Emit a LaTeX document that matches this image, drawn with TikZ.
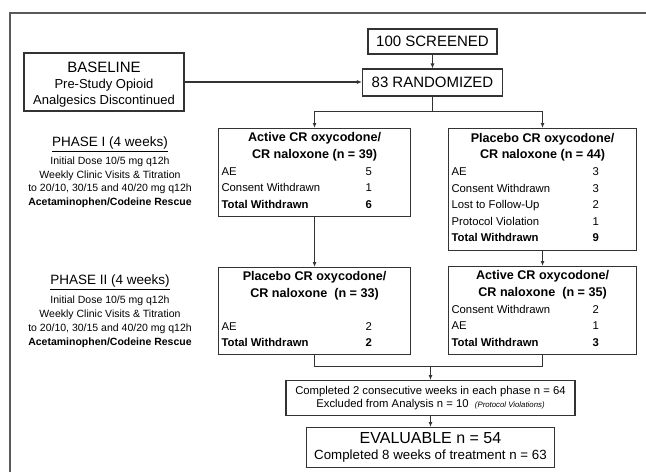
\documentclass[tikz,border=0pt]{standalone}
\usepackage{fontspec}
\setmainfont{Liberation Sans}
\usepackage{tikz}
\usetikzlibrary{positioning}
\usetikzlibrary{arrows.meta}

\definecolor{linegray}{HTML}{333333}
\definecolor{framegray}{HTML}{5A5A5A}
\newcommand{\rowgap}{3.6pt}
\newcommand{\armtitle}[1]{\multicolumn{2}{@{}c@{}}{\fontsize{12.6}{13}\selectfont\bfseries #1}}

\begin{document}
\begin{tikzpicture}[x=1pt, y=-1pt]

 \tikzset{box/.style={
 		draw=linegray, line width=1.1pt,
 		inner sep=3pt,
 		align=center
 	},
 	armbox/.style={
 		draw=linegray, line width=1.1pt,
 		inner sep=3pt,
 		anchor=north west,
 		minimum height=#1,
 		font=\fontsize{11.3}{13}\selectfont
 	},
 	armbox/.default=88pt,
 	phasehead/.style={font=\fontsize{13.5}{15}\selectfont, inner sep=0pt, anchor=base},
 	phasebody/.style={font=\fontsize{10.5}{13.8}\selectfont, align=center, inner sep=0pt, anchor=north},
 	arr/.style={draw=linegray, line width=1.1pt, -{Latex[length=5pt,width=4pt]}},
 	link/.style={draw=linegray, line width=1.1pt}
 }
 \useasboundingbox (0,0) rectangle (646,472);
 \draw[framegray, line width=1.5pt] (10,472) -- (10,13) -- (646,13);

 % top of the flow
 \node[box, minimum width=160pt, minimum height=58pt, font=\fontsize{13}{16}\selectfont] (baseline) at (104,82)
 	{{\fontsize{15}{16}\selectfont\rule{0pt}{15pt}BASELINE}\\ Pre-Study Opioid\\ Analgesics Discontinued};
 \node[box, minimum width=129pt, minimum height=25pt, font=\fontsize{15}{16}\selectfont] (screened) at (432.5,41.5) {100 SCREENED};
 \node[box, minimum width=140pt, minimum height=27pt, font=\fontsize{15}{16}\selectfont] (randomized) at (432.5,82.5) {83 RANDOMIZED};

 % phase texts
 \node[phasehead] (phaseonehead) at (110,146.8) {\underline{PHASE I (4 weeks)}};
 \node[phasebody] (phaseonebody) at (110,156.5) {Initial Dose 10/5 mg q12h\\ Weekly Clinic Visits \& Titration\\
 	to 20/10, 30/15 and 40/20 mg q12h\\ \textbf{Acetaminophen/Codeine Rescue}};
 \node[phasehead] (phasetwohead) at (110,284.8) {\underline{PHASE II (4 weeks)}};
 \node[phasebody] (phasetwobody) at (110,296) {Initial Dose 10/5 mg q12h\\ Weekly Clinic Visits \& Titration\\
 	to 20/10, 30/15 and 40/20 mg q12h\\ \textbf{Acetaminophen/Codeine Rescue}};

 % phase I arms
 \node[armbox] (actone) at (218,128) {\begin{tabular}{@{}p{144pt}@{}p{42pt}@{}}
 	\armtitle{Active CR oxycodone/}\\[\rowgap]
 	\armtitle{CR naloxone (n = 39)}\\[\rowgap]
 	AE & 5\\[\rowgap]
 	Consent Withdrawn & 1\\[\rowgap]
 	\textbf{Total Withdrawn} & \textbf{6}
 \end{tabular}};
 \node[armbox=122pt] (plaone) at (448,128) {\begin{tabular}{@{}p{141pt}@{}p{41pt}@{}}
 	\armtitle{Placebo CR oxycodone/}\\[\rowgap]
 	\armtitle{CR naloxone (n = 44)}\\[\rowgap]
 	AE & 3\\[\rowgap]
 	Consent Withdrawn & 3\\[\rowgap]
 	Lost to Follow-Up & 2\\[\rowgap]
 	Protocol Violation & 1\\[\rowgap]
 	\textbf{Total Withdrawn} & \textbf{9}
 \end{tabular}};

 % phase II arms
 \node[armbox=87pt] (platwo) at (218,267) {\begin{tabular}{@{}p{144pt}@{}p{42pt}@{}}
 	\armtitle{Placebo CR oxycodone/}\\[\rowgap]
 	\armtitle{CR naloxone\ \ (n = 33)}\\[\rowgap]
 	 & \\[\rowgap]
 	AE & 2\\[\rowgap]
 	\textbf{Total Withdrawn} & \textbf{2}
 \end{tabular}};
 \node[armbox] (acttwo) at (448,266) {\begin{tabular}{@{}p{141pt}@{}p{41pt}@{}}
 	\armtitle{Active CR oxycodone/}\\[\rowgap]
 	\armtitle{CR naloxone\ \ (n = 35)}\\[\rowgap]
 	Consent Withdrawn & 2\\[\rowgap]
 	AE & 1\\[\rowgap]
 	\textbf{Total Withdrawn} & \textbf{3}
 \end{tabular}};

 % bottom of the flow
 \node[box, minimum width=289pt, minimum height=35pt, font=\fontsize{11.3}{13}\selectfont, anchor=north] (completed) at (430.5,380)
 	{Completed 2 consecutive weeks in each phase n = 64\\
 	Excluded from Analysis n = 10\ \ {\fontsize{7.8}{9}\selectfont\itshape (Protocol Violations)}};
 \node[box, minimum width=248pt, minimum height=40pt, font=\fontsize{13.3}{16}\selectfont, anchor=north] (evaluable) at (430.5,427)
 	{{\fontsize{16}{16}\selectfont EVALUABLE n = 54}\\ Completed 8 weeks of treatment n = 63};

 % connectors
 \draw[arr] (screened.south) -- (randomized.north);
 \draw[arr] (baseline.east) -- (baseline.east -| randomized.west);
 \draw[link] (randomized.south) -- ++(0,14.5) coordinate (split);
 \draw[arr] (split) -| (actone.north);
 \draw[arr] (split) -| (plaone.north);
 \draw[arr] (actone.south) -- (platwo.north);
 \draw[arr] (plaone.south) -- (acttwo.north);
 \draw[link] (platwo.south) -- ++(0,11.5) coordinate (mergeleft) -| (acttwo.south);
 \coordinate (merge) at (completed.north |- mergeleft);
 \draw[arr] (merge) -- (completed.north);
 \draw[arr] (completed.south) -- (evaluable.north);
\end{tikzpicture}
\end{document}
